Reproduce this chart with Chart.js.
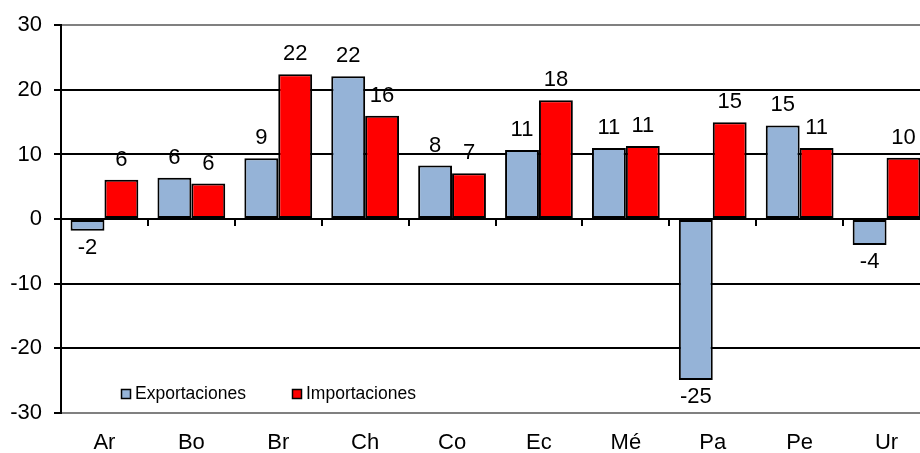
<!DOCTYPE html>
<html>
<head>
<meta charset="utf-8">
<script src="https://cdn.jsdelivr.net/npm/chart.js@4.4.1/dist/chart.umd.min.js"></script>
<style>
  html, body { margin: 0; padding: 0; background: #fff; overflow: hidden; }
  #wrap { position: relative; width: 930px; height: 453px; }
</style>
</head>
<body>
<div id="wrap"><canvas id="trade-chart"></canvas></div>
<script>
const countries = ["Ar", "Bo", "Br", "Ch", "Co", "Ec", "Mé", "Pa", "Pe", "Ur"];
const exportaciones = [-1.8, 6.4, 9.4, 22.1, 8.3, 10.7, 11.0, -24.9, 14.5, -4.0];
const importaciones = [6.1, 5.5, 22.4, 16.0, 7.1, 18.4, 11.3, 15.0, 11.0, 9.5];
const yTicks = [-30, -20, -10, 0, 10, 20, 30];

const FONT = "'Liberation Sans', Arial, sans-serif";

// value labels above / below each bar
const barLabels = {
  id: "barLabels",
  afterDatasetsDraw(chart) {
    const ctx = chart.ctx;
    ctx.save();
    ctx.font = "22px " + FONT;
    ctx.fillStyle = "#000";
    ctx.textAlign = "center";
    chart.data.datasets.forEach((ds, i) => {
      chart.getDatasetMeta(i).data.forEach((bar, j) => {
        const v = ds.data[j];
        const txt = String(Math.round(v));
        if (v >= 0) {
          ctx.textBaseline = "bottom";
          ctx.fillText(txt, bar.x, bar.y - 9);
        } else {
          ctx.textBaseline = "top";
          ctx.fillText(txt, bar.x, bar.y + 6);
        }
      });
    });
    ctx.restore();
  },
};

// small tick marks on the zero line between categories + legend inside plot
const extras = {
  id: "extras",
  afterDraw(chart) {
    const ctx = chart.ctx;
    const x = chart.scales.x;
    const y0 = chart.scales.y.getPixelForValue(0);
    ctx.save();
    ctx.strokeStyle = "#000";
    ctx.lineWidth = 2;
    const step = x.getPixelForValue(1) - x.getPixelForValue(0);
    for (let i = 1; i < countries.length; i++) {
      const px = Math.round(x.getPixelForValue(i) - step / 2);
      ctx.beginPath();
      ctx.moveTo(px, y0);
      ctx.lineTo(px, y0 + 7);
      ctx.stroke();
    }

    // legend
    const items = [
      { x: 121, ds: chart.data.datasets[0] },
      { x: 292, ds: chart.data.datasets[1] },
    ];
    ctx.font = "17.5px " + FONT;
    ctx.textBaseline = "middle";
    ctx.textAlign = "left";
    items.forEach((it) => {
      ctx.fillStyle = it.ds.backgroundColor;
      ctx.fillRect(it.x, 389, 9, 9);
      ctx.lineWidth = 1.5;
      ctx.strokeStyle = "#000";
      ctx.strokeRect(it.x + 0.5, 389.5, 9, 9);
      ctx.fillStyle = "#000";
      ctx.fillText(it.ds.label, it.x + 14, 394);
    });
    ctx.restore();
  },
};

new Chart(document.getElementById("trade-chart"), {
  type: "bar",
  data: {
    labels: countries,
    datasets: [
      {
        label: "Exportaciones",
        data: exportaciones,
        backgroundColor: "#95B3D7",
        borderColor: "#000",
        borderWidth: 2,
        borderSkipped: false,
        categoryPercentage: 0.78,
        barPercentage: 1.0,
      },
      {
        label: "Importaciones",
        data: importaciones,
        backgroundColor: "#FF0000",
        borderColor: "#000",
        borderWidth: 2,
        borderSkipped: false,
        categoryPercentage: 0.78,
        barPercentage: 1.0,
      },
    ],
  },
  options: {
    responsive: true,
    maintainAspectRatio: false,
    animation: false,
    layout: { padding: { top: 23, left: 0, right: 0, bottom: 0 } },
    plugins: {
      legend: { display: false },
      tooltip: { enabled: false },
    },
    scales: {
      x: {
        grid: { display: false },
        border: { display: false },
        ticks: {
          color: "#000",
          font: { family: FONT, size: 22 },
          padding: 9,
          maxRotation: 0,
        },
        afterFit(scale) {
          scale.height = 40;
        },
      },
      y: {
        min: -30,
        max: 30,
        afterBuildTicks(scale) {
          scale.ticks = yTicks.map((v) => ({ value: v }));
        },
        grid: {
          color: (ctx) =>
            ctx.tick && Math.abs(ctx.tick.value) === 30 ? "#808080" : "#000",
          lineWidth: 2,
          tickColor: "#000",
          tickLength: 7,
        },
        border: { color: "#000", width: 2 },
        ticks: {
          color: "#000",
          font: { family: FONT, size: 22 },
          padding: 12,
        },
        afterFit(scale) {
          scale.width = 61;
        },
      },
    },
  },
  plugins: [barLabels, extras],
});
</script>
</body>
</html>
